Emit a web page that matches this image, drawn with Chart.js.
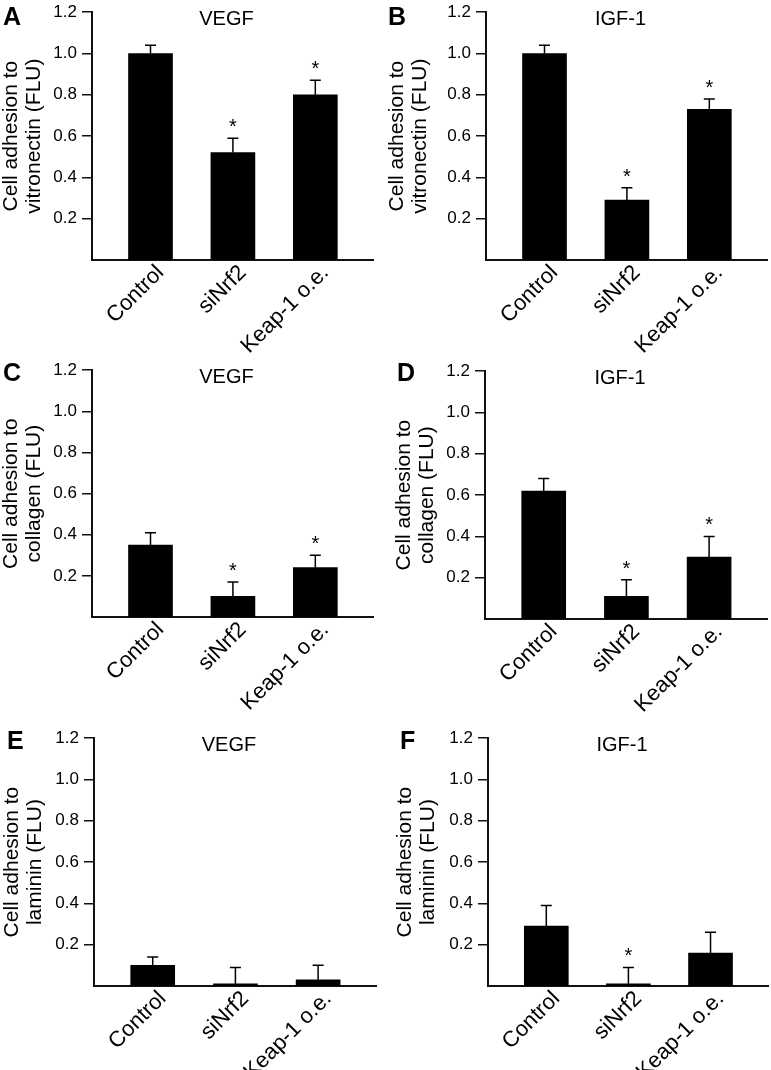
<!DOCTYPE html>
<html>
<head>
<meta charset="utf-8">
<script src="https://cdn.jsdelivr.net/npm/chart.js@4.4.0/dist/chart.umd.min.js"></script>
<style>
  body { margin: 0; background: #fff; }
  #page { position: relative; width: 771px; height: 1070px; overflow: hidden; font-family: "Liberation Sans", Arial, sans-serif; }
  #page canvas { position: absolute; }
  .letter { position: absolute; font-weight: bold; font-size: 25px; line-height: 25px; color: #000; }
</style>
</head>
<body>
<div id="page"></div>
<script>
// categories and y tick values shared by all six panels
const categories = ['Control', 'siNrf2', 'Keap-1 o.e.'];
const yTicks = [0.2, 0.4, 0.6, 0.8, 1.0, 1.2];

// means and error bars (FLU)
const vitronectinVegf = [1.00, 0.52, 0.80];
const vitronectinVegfErr = [0.04, 0.07, 0.07];
const vitronectinVegfSig = [false, true, true];

const vitronectinIgf = [1.00, 0.29, 0.73];
const vitronectinIgfErr = [0.04, 0.06, 0.05];
const vitronectinIgfSig = [false, true, true];

const collagenVegf = [0.35, 0.10, 0.24];
const collagenVegfErr = [0.06, 0.07, 0.06];
const collagenVegfSig = [false, true, true];

const collagenIgf = [0.62, 0.11, 0.30];
const collagenIgfErr = [0.06, 0.08, 0.10];
const collagenIgfSig = [false, true, true];

const lamininVegf = [0.10, 0.01, 0.03];
const lamininVegfErr = [0.04, 0.08, 0.07];
const lamininVegfSig = [false, false, false];

const lamininIgf = [0.29, 0.01, 0.16];
const lamininIgfErr = [0.10, 0.08, 0.10];
const lamininIgfSig = [false, true, false];

const FONT = '"Liberation Sans", Arial, sans-serif';
const PAD_TOP = 10;
const X_H = 110;

const panels = [
  { letter: 'A', title: 'VEGF', yLabel: ['Cell adhesion to', 'vitronectin (FLU)'], mean: vitronectinVegf, err: vitronectinVegfErr, sig: vitronectinVegfSig,
    left: 0, yW: 92, plotTop: 7, plotW: 281, plotH: 253, lx: 3, ly: 7 },
  { letter: 'B', title: 'IGF-1', yLabel: ['Cell adhesion to', 'vitronectin (FLU)'], mean: vitronectinIgf, err: vitronectinIgfErr, sig: vitronectinIgfSig,
    left: 386, yW: 100, plotTop: 7, plotW: 281, plotH: 253, lx: 388, ly: 7 },
  { letter: 'C', title: 'VEGF', yLabel: ['Cell adhesion to', 'collagen (FLU)'], mean: collagenVegf, err: collagenVegfErr, sig: collagenVegfSig,
    left: 0, yW: 92, plotTop: 365, plotW: 281, plotH: 252, lx: 3, ly: 363 },
  { letter: 'D', title: 'IGF-1', yLabel: ['Cell adhesion to', 'collagen (FLU)'], mean: collagenIgf, err: collagenIgfErr, sig: collagenIgfSig,
    left: 393, yW: 92, plotTop: 366, plotW: 282, plotH: 253, lx: 397, ly: 363 },
  { letter: 'E', title: 'VEGF', yLabel: ['Cell adhesion to', 'laminin (FLU)'], mean: lamininVegf, err: lamininVegfErr, sig: lamininVegfSig,
    left: 1, yW: 93, plotTop: 733, plotW: 282, plotH: 253, lx: 7, ly: 731 },
  { letter: 'F', title: 'IGF-1', yLabel: ['Cell adhesion to', 'laminin (FLU)'], mean: lamininIgf, err: lamininIgfErr, sig: lamininIgfSig,
    left: 394, yW: 94, plotTop: 733, plotW: 280, plotH: 253, lx: 400, ly: 731 }
];

const page = document.getElementById('page');

function makeExtras(p) {
  return {
    id: 'extras',
    afterDatasetsDraw(chart) {
      const ctx = chart.ctx;
      const xs = chart.scales.x, ys = chart.scales.y;
      ctx.save();
      ctx.strokeStyle = '#000';
      ctx.fillStyle = '#000';
      ctx.lineWidth = 1.5;
      p.mean.forEach((v, i) => {
        const x = xs.getPixelForValue(i);
        const yTop = ys.getPixelForValue(v);
        const yCap = ys.getPixelForValue(v + p.err[i]);
        ctx.beginPath();
        ctx.moveTo(x, yTop);
        ctx.lineTo(x, yCap);
        ctx.moveTo(x - 5.5, yCap);
        ctx.lineTo(x + 5.5, yCap);
        ctx.stroke();
        if (p.sig[i]) {
          ctx.font = '20px ' + FONT;
          ctx.textAlign = 'center';
          ctx.textBaseline = 'alphabetic';
          ctx.fillText('*', x, yCap - 5);
        }
      });
      const a = chart.chartArea;
      ctx.font = '20px ' + FONT;
      ctx.textAlign = 'center';
      ctx.textBaseline = 'middle';
      ctx.fillText(p.title, (a.left + a.right) / 2 - 6, a.top + 7);
      ctx.restore();
    }
  };
}

panels.forEach(p => {
  const canvas = document.createElement('canvas');
  canvas.width = p.yW + p.plotW + 2;
  canvas.height = PAD_TOP + p.plotH + X_H;
  canvas.style.left = p.left + 'px';
  canvas.style.top = (p.plotTop - PAD_TOP) + 'px';
  page.appendChild(canvas);

  const letter = document.createElement('div');
  letter.className = 'letter';
  letter.textContent = p.letter;
  letter.style.left = p.lx + 'px';
  letter.style.top = (p.ly - 3) + 'px';
  page.appendChild(letter);

  new Chart(canvas.getContext('2d'), {
    type: 'bar',
    data: {
      datasets: [{
        data: p.mean.map((v, i) => ({ x: i, y: v })),
        backgroundColor: '#000',
        borderWidth: 0,
        barThickness: 44
      }]
    },
    options: {
      responsive: false,
      animation: false,
      devicePixelRatio: 1,
      layout: { padding: { top: PAD_TOP, right: 2, left: 0, bottom: 0 } },
      plugins: { legend: { display: false }, tooltip: { enabled: false } },
      scales: {
        x: {
          type: 'linear',
          offset: false,
          min: -0.71,
          max: 2.70,
          afterBuildTicks: s => { s.ticks = categories.map((c, i) => ({ value: i })); },
          afterFit: s => { s.height = X_H; },
          grid: { display: false, drawTicks: false, offset: false },
          border: { display: true, color: '#111', width: 2 },
          ticks: {
            autoSkip: false, minRotation: 45, maxRotation: 45,
            padding: 0, labelOffset: 10, color: '#000',
            font: { size: 22, family: FONT },
            callback: v => categories[v]
          }
        },
        y: {
          min: 0,
          max: 1.2,
          afterBuildTicks: s => { s.ticks = yTicks.map(v => ({ value: v })); },
          afterFit: s => { s.width = p.yW; },
          grid: { drawOnChartArea: false, drawTicks: true, tickLength: 10, color: '#111', lineWidth: 1.5 },
          border: { display: true, color: '#111', width: 2 },
          ticks: { padding: 5, color: '#000', font: { size: 17, family: FONT }, callback: v => v.toFixed(1) },
          title: { display: true, text: p.yLabel, color: '#000', padding: 0, font: { size: 21, family: FONT, lineHeight: 1.1 } }
        }
      }
    },
    plugins: [makeExtras(p)]
  });
});
</script>
</body>
</html>
